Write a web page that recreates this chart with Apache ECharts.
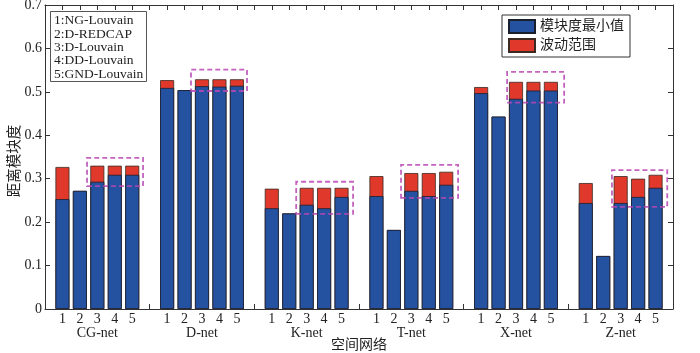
<!DOCTYPE html>
<html>
<head>
<meta charset="utf-8">
<script src="https://cdn.jsdelivr.net/npm/echarts@6/dist/echarts.min.js"></script>
<style>
  html, body { margin: 0; padding: 0; background: #fff; }
  #chart { width: 700px; height: 353px; }
</style>
</head>
<body>
<div id="chart"></div>
<script>
// 网络名称，每组 5 个算法
const groups = ['CG-net', 'D-net', 'K-net', 'T-net', 'X-net', 'Z-net'];
const methods = ['1:NG-Louvain', '2:D-REDCAP', '3:D-Louvain', '4:DD-Louvain', '5:GND-Louvain'];

// 模块度最小值（按组，每组 1~5）
const minCG = [0.253, 0.272, 0.293, 0.309, 0.309];
const minD  = [0.509, 0.504, 0.513, 0.512, 0.514];
const minK  = [0.232, 0.220, 0.240, 0.232, 0.258];
const minT  = [0.260, 0.182, 0.272, 0.260, 0.286];
const minX  = [0.497, 0.443, 0.484, 0.503, 0.503];
const minZ  = [0.244, 0.122, 0.244, 0.258, 0.279];

// 波动范围
const rngCG = [0.074, 0, 0.037, 0.021, 0.021];
const rngD  = [0.018, 0, 0.016, 0.017, 0.015];
const rngK  = [0.045, 0, 0.039, 0.047, 0.021];
const rngT  = [0.046, 0, 0.041, 0.053, 0.030];
const rngX  = [0.014, 0, 0.039, 0.020, 0.020];
const rngZ  = [0.046, 0, 0.062, 0.042, 0.030];

const yTicks = ['0', '0.1', '0.2', '0.3', '0.4', '0.5', '0.6', '0.7'];

// 虚线框（数据坐标）
const boxes = [
  [2.41, 0.283, 5.62, 0.348],
  [8.37, 0.502, 11.58, 0.551],
  [14.4, 0.219, 17.66, 0.293],
  [20.41, 0.256, 23.68, 0.332],
  [26.49, 0.475, 29.76, 0.546],
  [32.5, 0.235, 35.67, 0.320]
];

const mins = [minCG, minD, minK, minT, minX, minZ];
const rngs = [rngCG, rngD, rngK, rngT, rngX, rngZ];

// x 位置：每组占 6 格（5 根柱 + 1 个空格）
const blueData = [];
const redData = [];
const xLabels = {};
mins.forEach((arr, g) => {
  arr.forEach((v, i) => {
    const x = g * 6 + i + 1;
    blueData.push([x, v]);
    redData.push([x, +(v + rngs[g][i]).toFixed(3)]);
    xLabels[x] = i === 2 ? (i + 1) + '\n' + groups[g] : String(i + 1);
  });
});

const font = '"Liberation Serif", "Noto Sans CJK SC", serif';
const ink = '#222';

const chart = echarts.init(document.getElementById('chart'));
chart.setOption({
  animation: false,
  textStyle: { fontFamily: font, color: ink },
  title: {
    text: methods.join('\n'),
    left: 50,
    top: 11,
    padding: [3, 4, 1, 4],
    borderColor: '#555',
    borderWidth: 1,
    backgroundColor: '#fff',
    textStyle: { fontFamily: font, fontSize: 13.5, fontWeight: 'normal', color: ink, lineHeight: 13.4 }
  },
  legend: {
    data: ['模块度最小值', '波动范围'],
    orient: 'vertical',
    left: 502,
    top: 15,
    padding: [4, 6, 4, 6],
    itemGap: 4,
    itemWidth: 26,
    itemHeight: 13,
    icon: 'rect',
    borderColor: '#333',
    borderWidth: 1,
    backgroundColor: '#fff',
    textStyle: { fontFamily: font, fontSize: 14, color: ink }
  },
  grid: { left: 45, right: 27, top: 5, bottom: 44, outerBoundsMode: 'none' },
  xAxis: [
    {
      type: 'value', min: 0, max: 36, interval: 1,
      name: '空间网络', nameLocation: 'middle', nameGap: 29, nameMoveOverlap: false,
      nameTextStyle: { fontFamily: font, fontSize: 14, color: ink },
      axisLine: { onZero: false, lineStyle: { color: '#333', width: 1 } },
      axisTick: { inside: true, length: 5, lineStyle: { color: '#333' } },
      splitLine: { show: false },
      axisLabel: {
        formatter: v => xLabels[v] || '',
        fontSize: 14, lineHeight: 14, margin: 3, color: ink, fontFamily: font,
        showMinLabel: true, showMaxLabel: true
      }
    },
    {
      type: 'value', position: 'top', min: 0, max: 36, interval: 1,
      axisLine: { onZero: false, lineStyle: { color: '#333', width: 1 } },
      axisTick: { inside: true, length: 5, lineStyle: { color: '#333' } },
      splitLine: { show: false },
      axisLabel: { show: false }
    }
  ],
  yAxis: [
    {
      type: 'value', min: 0, max: 0.7, interval: 0.1,
      name: '距离模块度', nameLocation: 'middle', nameGap: 23, nameRotate: 90, nameMoveOverlap: false,
      nameTextStyle: { fontFamily: font, fontSize: 14.5, color: ink, padding: [0, 8, 0, 0] },
      axisLine: { show: true, onZero: false, lineStyle: { color: '#333', width: 1 } },
      axisTick: { show: true, inside: true, length: 5, lineStyle: { color: '#333' } },
      splitLine: { show: false },
      axisLabel: {
        formatter: v => yTicks[Math.round(v * 10)],
        fontSize: 14, margin: 3, color: ink, fontFamily: font
      }
    },
    {
      type: 'value', position: 'right', min: 0, max: 0.7, interval: 0.1,
      axisLine: { show: true, onZero: false, lineStyle: { color: '#333', width: 1 } },
      axisTick: { show: true, inside: true, length: 5, lineStyle: { color: '#333' } },
      splitLine: { show: false },
      axisLabel: { show: false }
    }
  ],
  series: [
    {
      name: '波动范围',
      type: 'bar',
      barWidth: 14,
      barGap: '-100%',
      data: redData,
      itemStyle: { color: '#E0392B', borderColor: '#3a2a22', borderWidth: 0.8 }
    },
    {
      name: '模块度最小值',
      type: 'bar',
      barWidth: 14,
      barGap: '-100%',
      data: blueData,
      itemStyle: { color: '#2451A0', borderColor: '#1a1f2e', borderWidth: 0.8 },
      markArea: {
        silent: true,
        z: 10,
        itemStyle: {
          color: 'rgba(0,0,0,0)',
          borderColor: 'rgba(185,70,180,0.85)',
          borderWidth: 1.8,
          borderType: [5, 3]
        },
        data: boxes.map(b => [{ coord: [b[0], b[3]] }, { coord: [b[2], b[1]] }])
      }
    }
  ]
});
</script>
</body>
</html>
